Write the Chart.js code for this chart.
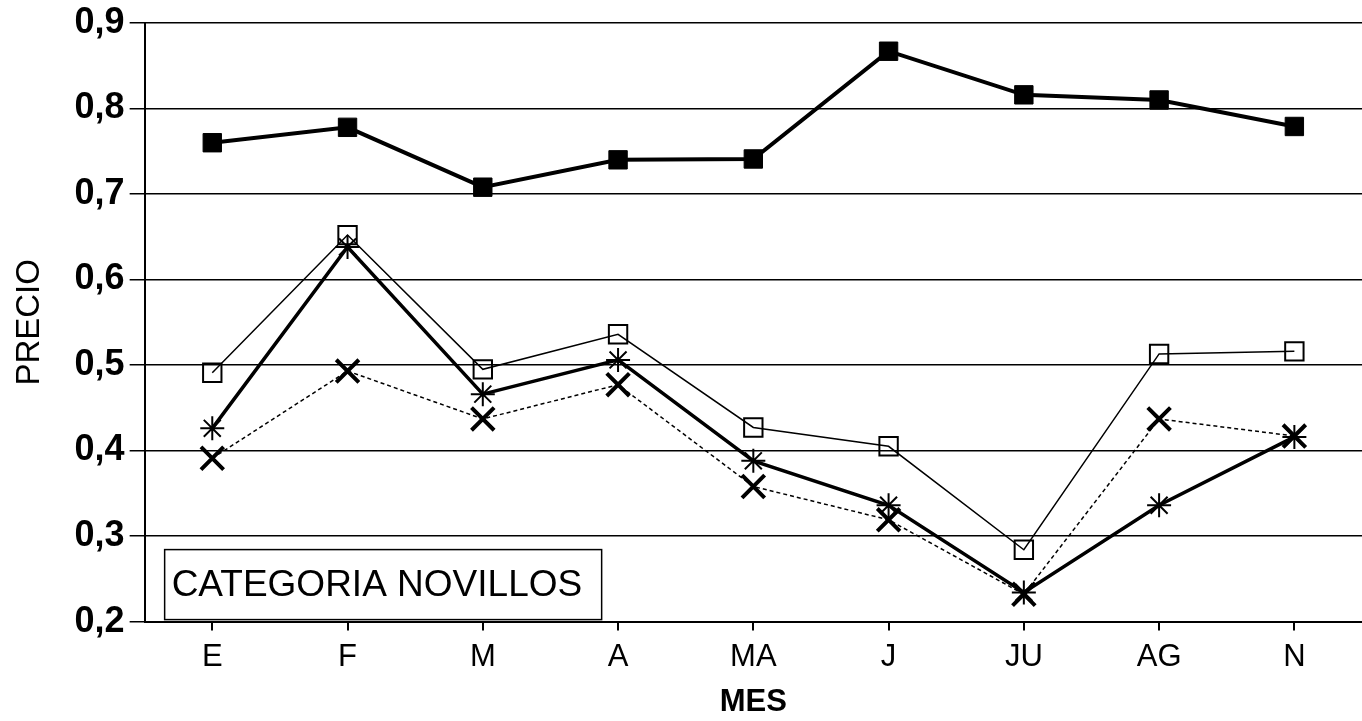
<!DOCTYPE html>
<html>
<head>
<meta charset="utf-8">
<script src="https://cdn.jsdelivr.net/npm/chart.js@4/dist/chart.umd.min.js"></script>
<style>
  html, body { margin: 0; padding: 0; background: #fff; }
  #wrap { width: 1362px; height: 721px; }
</style>
</head>
<body>
<div id="wrap"><canvas id="c" width="1362" height="721"></canvas></div>
<script>
const MONTHS = ["E", "F", "M", "A", "MA", "J", "JU", "AG", "N"];
const Y_TICKS = [0.2, 0.3, 0.4, 0.5, 0.6, 0.7, 0.8, 0.9];

// four price series (no legend in the original, only marker styles)
const filledSquare = [0.760, 0.778, 0.708, 0.740, 0.741, 0.867, 0.816, 0.810, 0.779];
const openSquare   = [0.491, 0.652, 0.495, 0.536, 0.427, 0.405, 0.284, 0.513, 0.516];
const asterisk     = [0.426, 0.638, 0.466, 0.506, 0.388, 0.336, 0.234, 0.336, 0.416];
const crossMark    = [0.391, 0.493, 0.437, 0.477, 0.358, 0.319, 0.232, 0.437, 0.417];

const FONT = "'Liberation Sans', Arial, sans-serif";

// boxed caption in the lower left of the plot
const captionBox = {
  id: "captionBox",
  afterDraw(chart) {
    const { ctx, chartArea } = chart;
    const x = chartArea.left + 20, y = chartArea.bottom - 72;
    const w = 437, h = 70;
    ctx.save();
    ctx.fillStyle = "#fff";
    ctx.fillRect(x, y, w, h);
    ctx.strokeStyle = "#000";
    ctx.lineWidth = 1.5;
    ctx.strokeRect(x, y, w, h);
    ctx.fillStyle = "#000";
    ctx.font = "37px " + FONT;
    ctx.textBaseline = "middle";
    ctx.fillText("CATEGORIA NOVILLOS", x + 7, y + h / 2 + 1, w - 20);
    ctx.restore();
  }
};

new Chart(document.getElementById("c"), {
  type: "line",
  data: {
    labels: MONTHS,
    datasets: [
      {
        data: filledSquare,
        borderColor: "#000", borderWidth: 4,
        pointStyle: "rect", pointRadius: 13, pointBackgroundColor: "#000",
        pointBorderColor: "#000", pointBorderWidth: 1
      },
      {
        data: openSquare,
        borderColor: "#000", borderWidth: 1.5,
        pointStyle: "rect", pointRadius: 13, pointBackgroundColor: "rgba(255,255,255,0)",
        pointBorderColor: "#000", pointBorderWidth: 2
      },
      {
        data: asterisk,
        borderColor: "#000", borderWidth: 3.5,
        pointStyle: "star", pointRadius: 12,
        pointBorderColor: "#000", pointBorderWidth: 2
      },
      {
        data: crossMark,
        borderColor: "#000", borderWidth: 1.5, borderDash: [4, 3],
        pointStyle: "crossRot", pointRadius: 16,
        pointBorderColor: "#000", pointBorderWidth: 4
      }
    ]
  },
  options: {
    responsive: false,
    animation: false,
    layout: { autoPadding: false, padding: { top: 12, right: 0, bottom: 0, left: 10 } },
    plugins: {
      legend: { display: false },
      tooltip: { enabled: false }
    },
    elements: { line: { tension: 0 } },
    scales: {
      x: {
        offset: true,
        grid: {
          offset: false, drawOnChartArea: false, drawTicks: true,
          tickLength: 9, color: "#000", lineWidth: 2
        },
        border: { display: true, color: "#000", width: 2 },
        ticks: { color: "#000", font: { family: FONT, size: 31 }, padding: 8 },
        title: {
          display: true, text: "MES", color: "#000",
          font: { family: FONT, size: 31, weight: "bold" }, padding: { top: 0, bottom: 0 }
        }
      },
      y: {
        min: 0.2, max: 0.9,
        afterBuildTicks(scale) { scale.ticks = Y_TICKS.map(v => ({ value: v })); },
        grid: { color: "#000", lineWidth: 1.5, tickLength: 15 },
        border: { display: true, color: "#000", width: 2 },
        ticks: {
          color: "#000", padding: 5,
          font: { family: FONT, size: 36, weight: "bold", lineHeight: 1 },
          callback: v => v.toFixed(1).replace(".", ",")
        },
        title: {
          display: true, text: "PRECIO", color: "#000",
          font: { family: FONT, size: 33 }, padding: { top: 0, bottom: 20 }
        }
      }
    }
  },
  plugins: [captionBox]
});
</script>
</body>
</html>
